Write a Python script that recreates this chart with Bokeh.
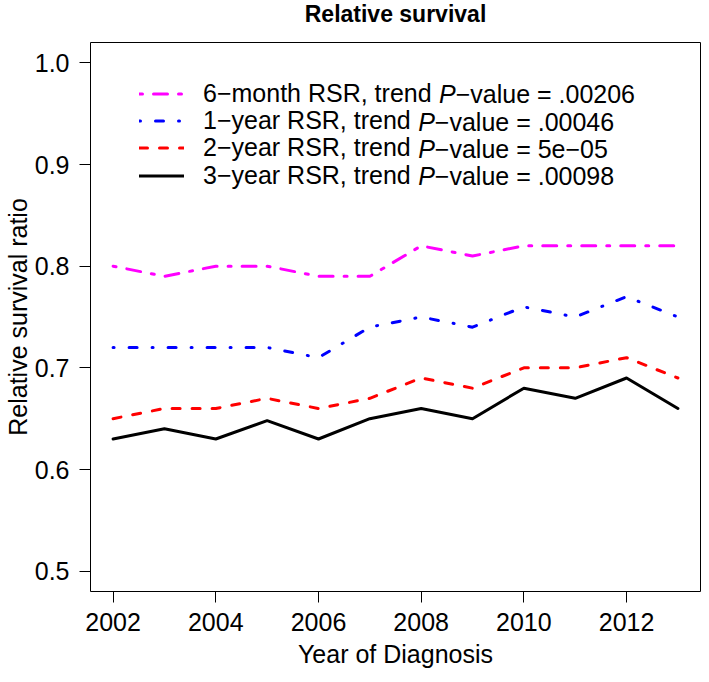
from bokeh.plotting import figure
from bokeh.models import Range1d, FixedTicker, Legend, LegendItem, Label, PrintfTickFormatter, Title
from bokeh.embed import file_html
from bokeh.resources import INLINE

# ---------------- data ----------------
years = [2002, 2003, 2004, 2005, 2006, 2007, 2008, 2009, 2010, 2011, 2012, 2013]
rsr_6m = [0.80, 0.79, 0.80, 0.80, 0.79, 0.79, 0.82, 0.81, 0.82, 0.82, 0.82, 0.82]
rsr_1y = [0.72, 0.72, 0.72, 0.72, 0.71, 0.74, 0.75, 0.74, 0.76, 0.75, 0.77, 0.75]
rsr_2y = [0.65, 0.66, 0.66, 0.67, 0.66, 0.67, 0.69, 0.68, 0.70, 0.70, 0.71, 0.69]
rsr_3y = [0.63, 0.64, 0.63, 0.648, 0.63, 0.65, 0.66, 0.65, 0.68, 0.67, 0.69, 0.66]
series_names = ["6\u2212month RSR", "1\u2212year RSR", "2\u2212year RSR", "3\u2212year RSR"]
p_values = [".00206", ".00046", "5e\u221205", ".00098"]
x_ticks = [2002, 2004, 2006, 2008, 2010, 2012]
y_ticks = [0.5, 0.6, 0.7, 0.8, 0.9, 1.0]
title_text = "Relative survival"
x_label = "Year of Diagnosis"
y_label = "Relative survival ratio"

# ---------------- layout ----------------
FONT = "Liberation Sans"
FS = 25
W, H = 701, 674
BL, BR, BT, BB = 90, 1, 41, 83
FW, FH = W - BL - BR, H - BT - BB
X0, X1 = 2001.56, 2013.44
Y0, Y1 = 0.48, 1.02


def xd(px):  # figure pixel -> data x
    return X0 + (px - BL) * (X1 - X0) / FW


def yd(py):  # figure pixel -> data y
    return Y1 - (py - BT) * (Y1 - Y0) / FH


# Arial / Liberation Sans advance widths (per 1000 em)
CW = {c: 556 for c in "0123456789"}
CW.update({"\u2212": 584, "m": 833, "o": 556, "n": 556, "t": 278, "h": 556, " ": 278,
           "R": 722, "S": 667, ",": 278, "r": 333, "e": 556, "d": 556, "y": 500,
           "a": 556, "P": 667})


def tw(s, fs=FS):
    return sum(CW.get(c, 556) for c in s) * fs / 1000.0


p = figure(width=W, height=H, x_range=Range1d(X0, X1), y_range=Range1d(Y0, Y1),
           output_backend="svg", toolbar_location=None, title=None,
           min_border_left=BL, min_border_right=BR, min_border_top=BT, min_border_bottom=BB)
p.background_fill_color = "white"
p.border_fill_color = "white"
p.outline_line_color = "black"
p.outline_line_width = 1
p.grid.visible = False

# small blank spacer next to the frame, then the real title above it
p.add_layout(Title(text=" ", text_font=FONT, text_font_size="11px", standoff=0), "above")
p.add_layout(Title(text=title_text, text_font=FONT, text_font_size="23px",
                   text_font_style="bold", text_color="black", align="center",
                   vertical_align="top", standoff=0), "above")

styles = [
    (rsr_6m, "#FF00FF", "3 11 14 11"),
    (rsr_1y, "#0000FF", "1 15 8 15"),
    (rsr_2y, "#FF0000", "8 12"),
    (rsr_3y, "#000000", "solid"),
]
renderers = []
for vals, col, dash in styles:
    r = p.line(years, vals, line_color=col, line_width=3, line_dash=dash, line_cap="round",
               line_join="round")
    renderers.append(r)

# axes
for ax in (p.xaxis[0], p.yaxis[0]):
    ax.axis_line_color = None
    ax.major_tick_line_color = "black"
    ax.major_tick_line_width = 1
    ax.major_tick_in = 0
    ax.major_tick_out = 11
    ax.minor_tick_line_color = None
    ax.major_label_text_font = FONT
    ax.major_label_text_font_size = f"{FS}px"
    ax.major_label_text_color = "black"
    ax.axis_label_text_font = FONT
    ax.axis_label_text_font_size = f"{FS}px"
    ax.axis_label_text_font_style = "normal"
    ax.axis_label_text_color = "black"

p.xaxis.ticker = FixedTicker(ticks=x_ticks)
p.yaxis.ticker = FixedTicker(ticks=y_ticks)
p.yaxis.formatter = PrintfTickFormatter(format="%.1f")
p.xaxis.major_label_standoff = 10
p.yaxis.major_label_standoff = 10
p.xaxis.axis_label = x_label
p.yaxis.axis_label = y_label
p.xaxis.axis_label_standoff = 6
p.yaxis.axis_label_standoff = 0

# legend: one single-row legend per series (keys + first part of the text)
ROW_H = 27.3
ROW0 = 93.0      # centre of first row, figure px
ITEM_H = 29.3    # height Bokeh gives one legend row
KEY_X = 139
TXT_X = 203
for i, (n, pv, r) in enumerate(zip(series_names, p_values, renderers)):
    cy = ROW0 + i * ROW_H
    leg = Legend(
        items=[LegendItem(label=f"{n}, trend", renderers=[r])],
        location=(KEY_X - BL, (BT + FH) - (cy + ITEM_H / 2)),
        padding=0, margin=0, spacing=0,
        border_line_color=None, background_fill_alpha=0,
        glyph_width=45, glyph_height=27, label_height=27, label_standoff=19,
        label_text_font=FONT, label_text_font_size=f"{FS}px", label_text_color="black",
    )
    p.add_layout(leg)
    px_p = TXT_X + tw(f"{n}, trend ")
    p.add_layout(Label(x=xd(px_p), y=yd(cy), text="P", text_font=FONT,
                       text_font_size=f"{FS}px", text_font_style="italic",
                       text_baseline="middle", text_align="left", text_color="black"))
    p.add_layout(Label(x=xd(px_p + tw("P")), y=yd(cy), text=f"\u2212value = {pv}",
                       text_font=FONT, text_font_size=f"{FS}px",
                       text_baseline="middle", text_align="left", text_color="black"))

open("out.html", "w").write(file_html(p, INLINE))
